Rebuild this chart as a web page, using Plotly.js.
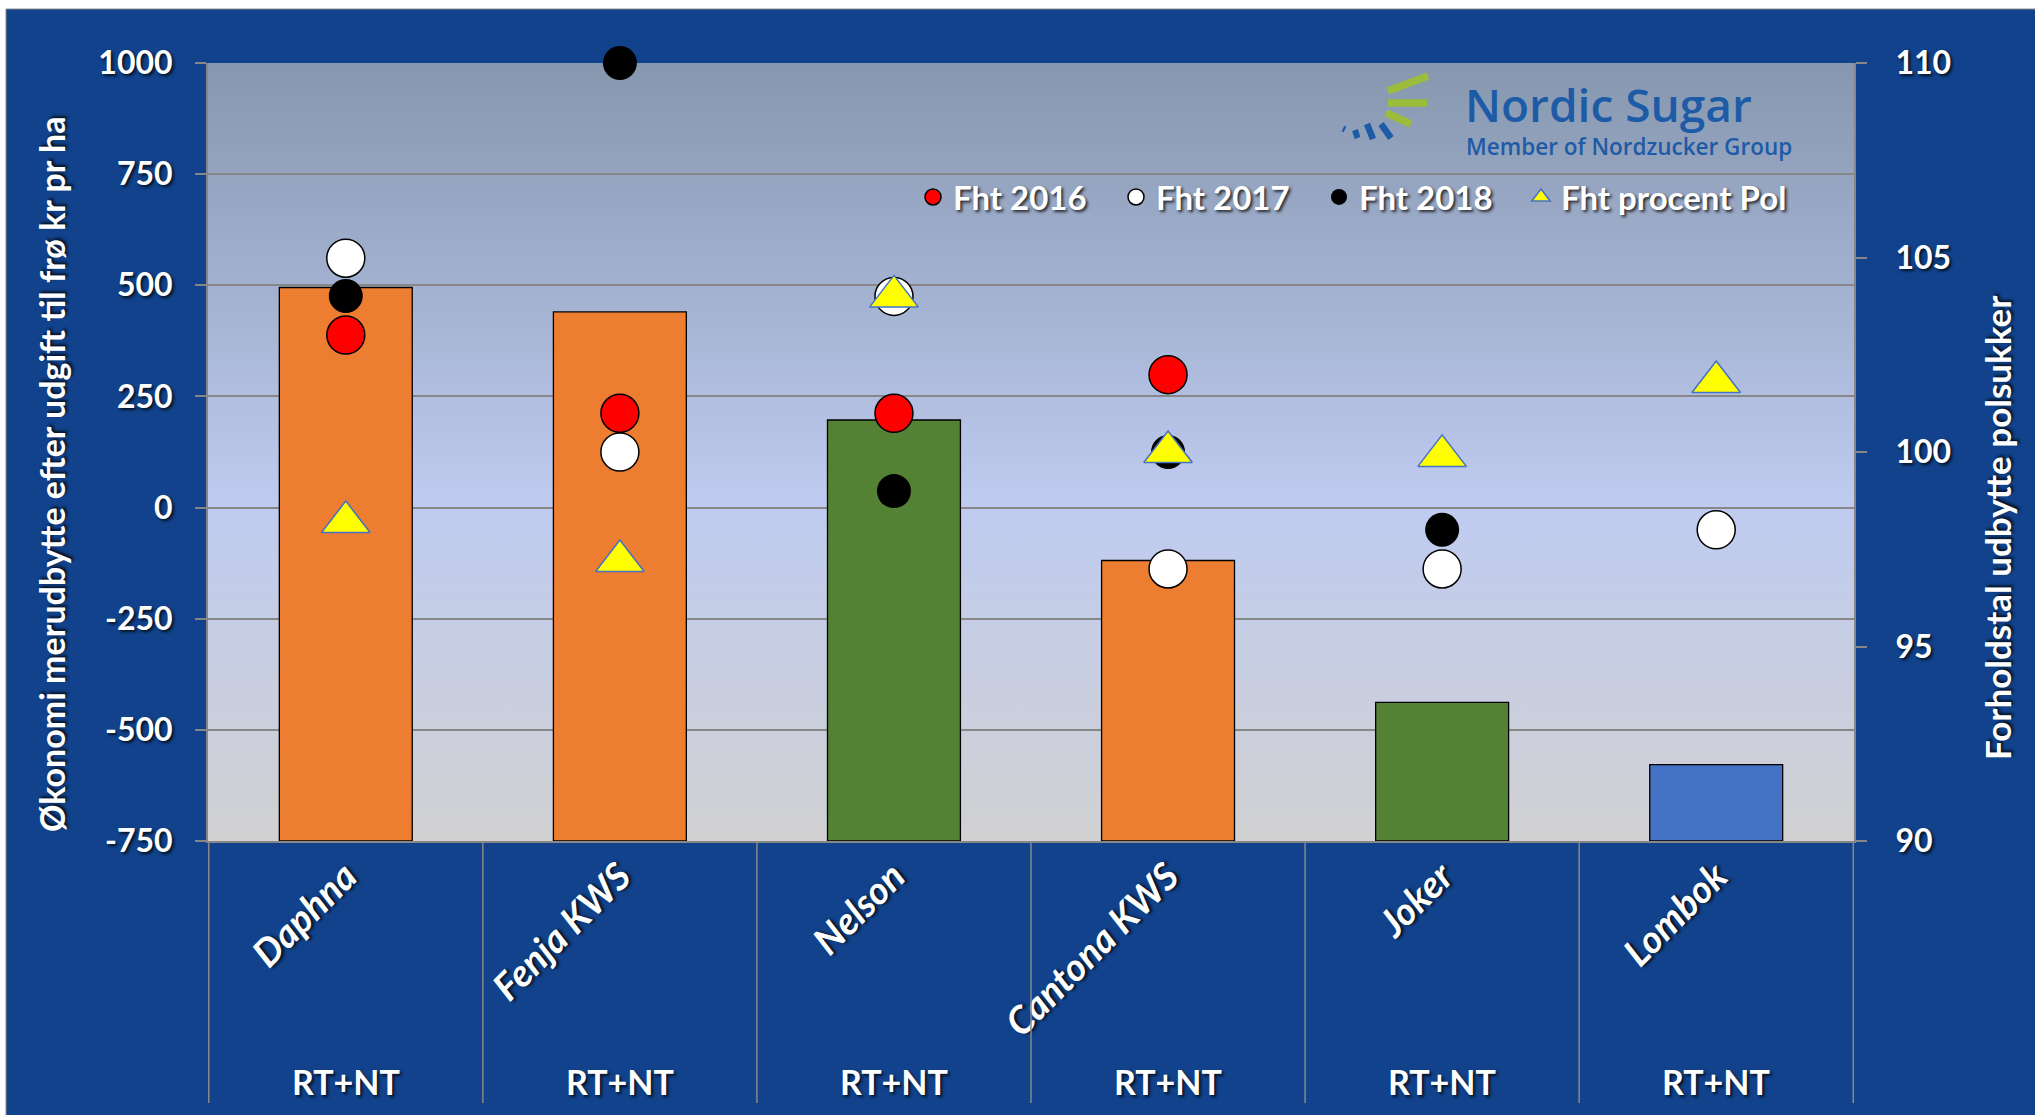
<!DOCTYPE html>
<html><head><meta charset="utf-8">
<script src="https://cdn.plot.ly/plotly-3.0.1.min.js"></script>
<style>html,body{margin:0;padding:0;background:#fff;} #chart{width:2035px;height:1115px;}</style>
</head><body><div id="chart"></div>
<script>
// ---- data ----
const categories = ['Daphna', 'Fenja KWS', 'Nelson', 'Cantona KWS', 'Joker', 'Lombok'];
const groupLabels = ['RT+NT', 'RT+NT', 'RT+NT', 'RT+NT', 'RT+NT', 'RT+NT'];
const barValues = [495, 440, 197, -119, -438, -578];
const fht2016 = [388, 212, 212, 299, null, null];
const fht2017 = [561, 125, 475, -138, -138, -50];
const fht2018 = [476, 1000, 37, 125, -50, null];
const fhtPol = [98.2, 97.2, 104.0, 100.0, 99.9, 101.8];
const leftTicks = [-750, -500, -250, 0, 250, 500, 750, 1000];
const rightTicks = [90, 95, 100, 105, 110];
const seriesNames = ['Fht 2016', 'Fht 2017', 'Fht 2018', 'Fht procent Pol'];
const leftTitle = 'Økonomi merudbytte efter udgift til frø kr pr ha';
const rightTitle = 'Forholdstal udbytte polsukker';

// ---- styles ----
const barColors = ['#ED7D31', '#ED7D31', '#548235', '#ED7D31', '#548235', '#4472C4'];
const BLUE_BG = '#11428B';
const GRID = '#878787';
const FONT = 'Lato, "Open Sans", sans-serif';
const SHADOW = '2px 2px 3px rgba(0,0,0,0.75)';

// plot area in pixels
const L = 208, T = 63, W = 1646, H = 778, FW = 2035, FH = 1115;
const px2x = px => (px - L) / W;
const px2y = py => (T + H - py) / H;

// bars rise from the bottom of the value axis (as in the original)
const barFloor = leftTicks[0];

const traces = [
  {type: 'bar', x: categories, y: barValues.map(v => v - barFloor), base: barFloor, yaxis: 'y', showlegend: false,
   customdata: barValues, hovertemplate: '%{x}: %{customdata}<extra></extra>',
   marker: {color: barColors, line: {color: '#000', width: 1.3}}},
  {type: 'scatter', mode: 'markers', name: seriesNames[0], x: categories, y: fht2016, yaxis: 'y', cliponaxis: false,
   legend: 'legend', marker: {symbol: 'circle', size: 38, color: '#FF0000', line: {color: '#000', width: 1.5}}},
  {type: 'scatter', mode: 'markers', name: seriesNames[1], x: categories, y: fht2017, yaxis: 'y', cliponaxis: false,
   legend: 'legend2', marker: {symbol: 'circle', size: 38, color: '#FFFFFF', line: {color: '#000', width: 1.5}}},
  {type: 'scatter', mode: 'markers', name: seriesNames[2], x: categories, y: fht2018, yaxis: 'y', cliponaxis: false,
   legend: 'legend3', marker: {symbol: 'circle', size: 34, color: '#000000', line: {color: '#000', width: 0}}},
  {type: 'scatter', mode: 'markers', name: seriesNames[3], x: categories, y: fhtPol, yaxis: 'y2', cliponaxis: false,
   legend: 'legend4', marker: {symbol: 'triangle-up', size: 42, color: '#FFFF00', line: {color: '#4472C4', width: 1.5}}}
];

// gradient plot background
const gradSvg = "<svg xmlns='http://www.w3.org/2000/svg' width='100' height='100' preserveAspectRatio='none'>" +
  "<defs><linearGradient id='g' x1='0' y1='0' x2='0' y2='1'>" +
  "<stop offset='0' stop-color='#8697AF'/><stop offset='0.57' stop-color='#BFCBF0'/>" +
  "<stop offset='1' stop-color='#D1D1D2'/></linearGradient></defs>" +
  "<rect width='100' height='100' fill='url(#g)'/></svg>";
const gradURI = 'data:image/svg+xml;base64,' + btoa(gradSvg);

const shapes = [];
// white slide edges
shapes.push({type: 'rect', xref: 'paper', yref: 'paper', x0: px2x(-5), x1: px2x(FW + 5), y0: px2y(9), y1: px2y(-5),
  fillcolor: '#FFFFFF', line: {width: 0}, layer: 'below'});
shapes.push({type: 'rect', xref: 'paper', yref: 'paper', x0: px2x(-5), x1: px2x(6), y0: px2y(FH + 5), y1: px2y(-5),
  fillcolor: '#FFFFFF', line: {width: 0}, layer: 'below'});
shapes.push({type: 'rect', xref: 'paper', yref: 'paper', x0: px2x(6), x1: px2x(FW + 5), y0: px2y(FH + 5), y1: px2y(9),
  fillcolor: 'rgba(0,0,0,0)', line: {width: 1, color: '#8A8A8A'}, layer: 'below'});
// category dividers below the axis
for (let i = 0; i <= categories.length; i++) {
  shapes.push({type: 'line', xref: 'x', yref: 'paper', x0: i - 0.5, x1: i - 0.5, y0: 0, y1: px2y(1103),
    line: {color: GRID, width: 1.5}});
}
// Nordic Sugar logo mark
const green = '#9CBD3B', logoBlue = '#1D5BA6';
const logoLines = [
  [1428, 76, 1388, 91, green, 7.5], [1388, 103, 1427, 103, green, 7.5], [1386, 113, 1411, 124, green, 7.5],
  [1343, 128.5, 1345, 129.5, logoBlue, 6], [1355, 130, 1357.5, 138, logoBlue, 6],
  [1367, 124, 1373, 139, logoBlue, 6.5], [1381, 124, 1391, 138, logoBlue, 6.5]
];
logoLines.forEach(s => shapes.push({type: 'line', xref: 'paper', yref: 'paper',
  x0: px2x(s[0]), y0: px2y(s[1]), x1: px2x(s[2]), y1: px2y(s[3]), line: {color: s[4], width: s[5]}}));

const annotations = [];
groupLabels.forEach((g, i) => annotations.push({
  text: g, x: categories[i], xref: 'x', y: px2y(1081), yref: 'paper', showarrow: false,
  xanchor: 'center', yanchor: 'middle',
  font: {family: FONT, size: 34, color: '#FFFFFF', weight: 700, shadow: SHADOW}
}));
annotations.push({text: leftTitle, textangle: -90, xref: 'paper', yref: 'paper', x: px2x(52), y: px2y(474),
  showarrow: false, xanchor: 'center', yanchor: 'middle',
  font: {family: FONT, size: 34, color: '#FFFFFF', weight: 700, shadow: SHADOW}});
annotations.push({text: rightTitle, textangle: -90, xref: 'paper', yref: 'paper', x: px2x(1997), y: px2y(528),
  showarrow: false, xanchor: 'center', yanchor: 'middle',
  font: {family: FONT, size: 35, color: '#FFFFFF', weight: 700, shadow: SHADOW}});
annotations.push({text: 'Nordic Sugar', xref: 'paper', yref: 'paper', x: px2x(1463), y: px2y(104),
  showarrow: false, xanchor: 'left', yanchor: 'middle',
  font: {family: '"Open Sans", sans-serif', size: 46, color: logoBlue, weight: 600}});
annotations.push({text: 'Member of Nordzucker Group', xref: 'paper', yref: 'paper', x: px2x(1464), y: px2y(146),
  showarrow: false, xanchor: 'left', yanchor: 'middle',
  font: {family: '"Open Sans", sans-serif', size: 22.5, color: logoBlue, weight: 600}});

const tickFont = {family: FONT, size: 32, color: '#FFFFFF', weight: 700, shadow: SHADOW};
const legendFont = {family: FONT, size: 33, color: '#FFFFFF', weight: 700, shadow: SHADOW};
const legendMarkerX = [936, 1139, 1342, 1544];
const mkLegend = px => ({orientation: 'h', x: px2x(px - 23), y: px2y(169), xanchor: 'left', yanchor: 'top',
  bgcolor: 'rgba(0,0,0,0)', borderwidth: 0, font: legendFont});

const layout = {
  width: FW, height: FH,
  margin: {l: L, r: FW - L - W, t: T, b: FH - T - H, pad: 0},
  paper_bgcolor: BLUE_BG,
  plot_bgcolor: 'rgba(0,0,0,0)',
  bargap: 0.515,
  showlegend: true,
  legend: mkLegend(legendMarkerX[0]),
  legend2: mkLegend(legendMarkerX[1]),
  legend3: mkLegend(legendMarkerX[2]),
  legend4: mkLegend(legendMarkerX[3]),
  xaxis: {type: 'category', categoryorder: 'array', categoryarray: categories,
    showline: true, linecolor: GRID, linewidth: 2, ticks: '', showgrid: false, zeroline: false,
    tickangle: -45, ticklabelstandoff: -4,
    tickfont: {family: FONT, size: 38, color: '#FFFFFF', weight: 700, style: 'italic', shadow: SHADOW}},
  yaxis: {range: [leftTicks[0], leftTicks[leftTicks.length - 1]], tickvals: leftTicks, ticktext: leftTicks.map(String),
    showgrid: true, gridcolor: GRID, gridwidth: 1.6, zeroline: false,
    showline: true, linecolor: GRID, linewidth: 2, ticks: 'outside', ticklen: 11, tickcolor: GRID, tickwidth: 1.6,
    ticklabelstandoff: 16, tickfont: tickFont},
  yaxis2: {range: [rightTicks[0], rightTicks[rightTicks.length - 1]], tickvals: rightTicks, ticktext: rightTicks.map(String),
    overlaying: 'y', side: 'right', showgrid: false, zeroline: false,
    showline: true, linecolor: GRID, linewidth: 2, ticks: 'outside', ticklen: 11, tickcolor: GRID, tickwidth: 1.6,
    ticklabelstandoff: 22, tickfont: tickFont},
  images: [{source: gradURI, xref: 'paper', yref: 'paper', x: 0, y: 1, sizex: 1, sizey: 1,
    sizing: 'stretch', xanchor: 'left', yanchor: 'top', layer: 'below'}],
  shapes: shapes,
  annotations: annotations
};

Plotly.newPlot('chart', traces, layout, {displayModeBar: false, responsive: false});
</script>
</body></html>
